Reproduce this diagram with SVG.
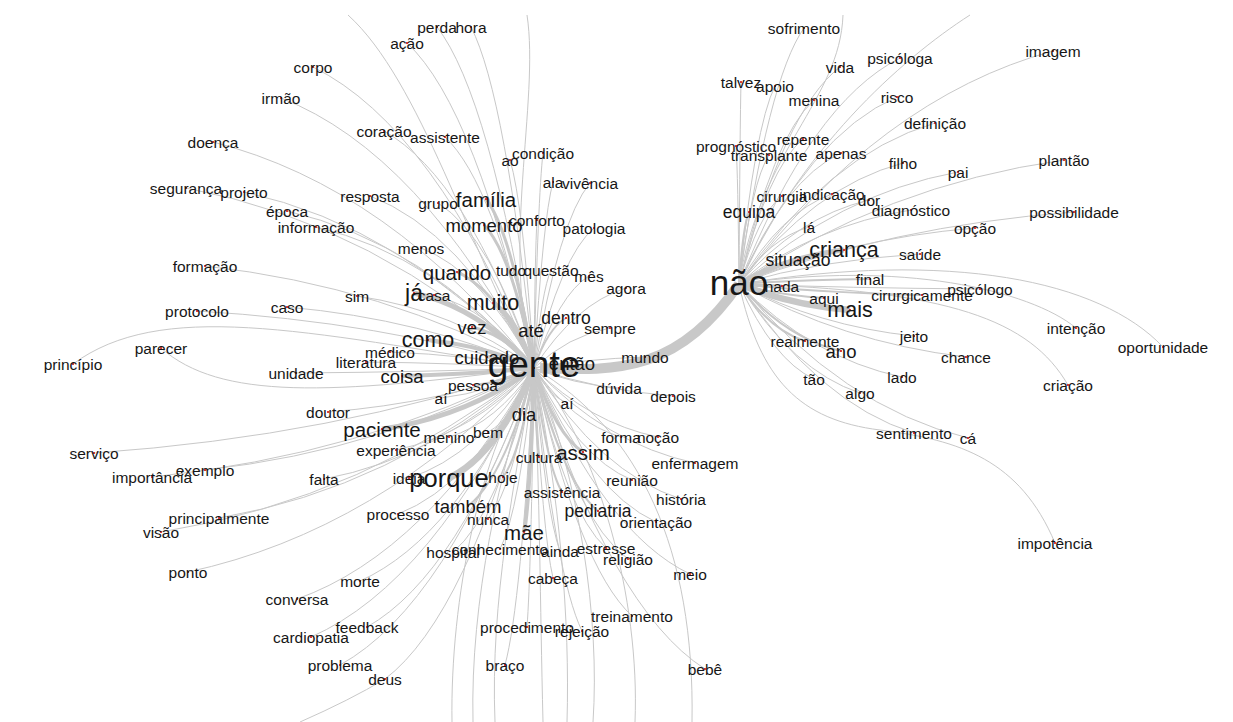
<svg xmlns="http://www.w3.org/2000/svg" width="1233" height="722" viewBox="0 0 1233 722">
<style>
.e{fill:none;stroke:#c8c8c8;stroke-width:1}
.w2{stroke-width:2}.w3{stroke-width:3}.w4{stroke-width:4}.w5{stroke-width:5}.w6{stroke-width:6.5}.w10{stroke-width:10}
circle{fill:#d40000}
text{font-family:"Liberation Sans",Arial,sans-serif;font-size:15.5px;fill:#161616;text-anchor:middle;dominant-baseline:central}
.f17{font-size:17.5px}.f18{font-size:18.5px}.f20{font-size:20.5px}.f21{font-size:21.5px}.f23{font-size:23px}.f25{font-size:25.5px}.f35{font-size:35px}.f37{font-size:37px}
</style>
<rect width="1233" height="722" fill="#fff"/>
<g id="connectors">
<path class="e" d="M437 27q53 68 97 341"/>
<path class="e" d="M471 27q35 68 63 341"/>
<path class="e" d="M407 43q70 65 127 325"/>
<path class="e" d="M313 67q122 60 221 301"/>
<path class="e" d="M281 98q139 54 253 270"/>
<path class="e" d="M384 131q83 47 150 237"/>
<path class="e" d="M445 137q49 46 89 231"/>
<path class="e" d="M213 142q177 45 321 226"/>
<path class="e" d="M510 160q13 42 24 208"/>
<path class="e" d="M543 153q-5 43 -9 215"/>
<path class="e" d="M553 182q-10 37 -19 186"/>
<path class="e" d="M590 183q-31 37 -56 185"/>
<path class="e" d="M186 188q191 36 348 180"/>
<path class="e" d="M244 192q160 35 290 176"/>
<path class="e" d="M370 196q90 34 164 172"/>
<path class="e" d="M287 211q136 31 247 157"/>
<path class="e" d="M316 227q120 28 218 141"/>
<path class="e" d="M438 203q53 33 96 165"/>
<path class="e w3" d="M486 199q26 34 48 169"/>
<path class="e w3" d="M484 225q28 29 50 143"/>
<path class="e" d="M537 220q-2 30 -3 148"/>
<path class="e" d="M594 228q-33 28 -60 140"/>
<path class="e" d="M421 248q62 24 113 120"/>
<path class="e w3" d="M457 272q42 19 77 96"/>
<path class="e" d="M511 270q13 20 23 98"/>
<path class="e" d="M551 270q-9 20 -17 98"/>
<path class="e" d="M589 276q-30 18 -55 92"/>
<path class="e" d="M626 288q-51 16 -92 80"/>
<path class="e" d="M205 266q181 20 329 102"/>
<path class="e w5" d="M414 293q66 15 120 75"/>
<path class="e" d="M434 295q55 15 100 73"/>
<path class="e" d="M357 296q97 14 177 72"/>
<path class="e w4" d="M493 303q23 13 41 65"/>
<path class="e" d="M287 307q136 12 247 61"/>
<path class="e" d="M197 311q185 11 337 57"/>
<path class="e w3" d="M472 327q34 8 62 41"/>
<path class="e w2" d="M531 330q2 8 3 38"/>
<path class="e w2" d="M566 318q-18 10 -32 50"/>
<path class="e" d="M610 328q-42 8 -76 40"/>
<path class="e w4" d="M428 340q58 6 106 28"/>
<path class="e" d="M390 352q79 3 144 16"/>
<path class="e" d="M366 362q92 1 168 6"/>
<path class="e" d="M161 348C220 400 330 395 534 368"/>
<path class="e" d="M73 364C160 300 300 330 534 368"/>
<path class="e" d="M296 373q131 -1 238 -5"/>
<path class="e w3" d="M487 357q26 2 47 11"/>
<path class="e" d="M572 363q-21 1 -38 5"/>
<path class="e" d="M645 357q-61 2 -111 11"/>
<path class="e w4" d="M402 376q73 -2 132 -8"/>
<path class="e w2" d="M473 385q34 -3 61 -17"/>
<path class="e" d="M441 398q51 -6 93 -30"/>
<path class="e" d="M619 388q-47 -4 -85 -20"/>
<path class="e" d="M673 396q-76 -6 -139 -28"/>
<path class="e" d="M328 412q113 -9 206 -44"/>
<path class="e w2" d="M524 414q6 -9 10 -46"/>
<path class="e" d="M567 403q-18 -7 -33 -35"/>
<path class="e w5" d="M382 429q84 -12 152 -61"/>
<path class="e" d="M449 437q47 -14 85 -69"/>
<path class="e" d="M488 432q25 -13 46 -64"/>
<path class="e" d="M396 450q76 -16 138 -82"/>
<path class="e" d="M621 437q-48 -14 -87 -69"/>
<path class="e" d="M658 437q-68 -14 -124 -69"/>
<path class="e" d="M94 453q242 -17 440 -85"/>
<path class="e" d="M152 477q210 -22 382 -109"/>
<path class="e" d="M205 470q181 -20 329 -102"/>
<path class="e w2" d="M539 457q-3 -18 -5 -89"/>
<path class="e w3" d="M583 452q-27 -17 -49 -84"/>
<path class="e" d="M695 463q-89 -19 -161 -95"/>
<path class="e" d="M324 479q116 -22 210 -111"/>
<path class="e" d="M409 478q69 -22 125 -110"/>
<path class="e w6" d="M449 478q47 -22 85 -110"/>
<path class="e w2" d="M503 477q17 -22 31 -109"/>
<path class="e" d="M632 480q-54 -22 -98 -112"/>
<path class="e w2" d="M562 492q-15 -25 -28 -124"/>
<path class="e" d="M681 499q-81 -26 -147 -131"/>
<path class="e" d="M219 518q173 -30 315 -150"/>
<path class="e" d="M161 532q205 -33 373 -164"/>
<path class="e" d="M398 514q75 -29 136 -146"/>
<path class="e w2" d="M468 506q36 -28 66 -138"/>
<path class="e" d="M488 519q25 -30 46 -151"/>
<path class="e w2" d="M598 511q-35 -29 -64 -143"/>
<path class="e" d="M656 522q-67 -31 -122 -154"/>
<path class="e w4" d="M524 532q6 -33 10 -164"/>
<path class="e" d="M453 552q45 -37 81 -184"/>
<path class="e" d="M500 549q19 -36 34 -181"/>
<path class="e" d="M560 551q-14 -37 -26 -183"/>
<path class="e" d="M606 548q-40 -36 -72 -180"/>
<path class="e" d="M628 559q-52 -38 -94 -191"/>
<path class="e" d="M188 572q190 -41 346 -204"/>
<path class="e" d="M690 574q-86 -41 -156 -206"/>
<path class="e" d="M553 578q-10 -42 -19 -210"/>
<path class="e" d="M360 581q96 -43 174 -213"/>
<path class="e" d="M297 599q130 -46 237 -231"/>
<path class="e" d="M632 616q-54 -50 -98 -248"/>
<path class="e" d="M367 627q92 -52 167 -259"/>
<path class="e" d="M527 627q4 -52 7 -259"/>
<path class="e" d="M582 631q-26 -53 -48 -263"/>
<path class="e" d="M311 637q123 -54 223 -269"/>
<path class="e" d="M340 665q107 -59 194 -297"/>
<path class="e" d="M505 665q16 -59 29 -297"/>
<path class="e" d="M385 679q82 -62 149 -311"/>
<path class="e" d="M705 669q-94 -60 -171 -301"/>
<path class="e" d="M534 368C500 250 540 100 527 15"/>
<path class="e" d="M534 368C470 250 420 80 348 15"/>
<path class="e" d="M534 368C480 450 450 600 452 722"/>
<path class="e" d="M534 368C500 470 470 600 473 722"/>
<path class="e" d="M534 368C515 480 490 600 495 722"/>
<path class="e" d="M534 368C540 500 540 600 543 722"/>
<path class="e" d="M534 368C560 500 570 620 567 722"/>
<path class="e" d="M534 368C580 480 600 620 593 722"/>
<path class="e" d="M534 368C600 450 640 600 635 722"/>
<path class="e" d="M534 368C640 430 695 550 692 722"/>
<path class="e" d="M385 679Q350 700 300 722"/>
<path class="e" d="M804 28q-36 51 -65 256"/>
<path class="e" d="M1053 51q-173 47 -314 233"/>
<path class="e" d="M840 67q-56 43 -101 217"/>
<path class="e" d="M900 58q-89 45 -161 226"/>
<path class="e" d="M741 82q-1 40 -2 202"/>
<path class="e" d="M775 86q-20 40 -36 198"/>
<path class="e" d="M814 100q-41 37 -75 184"/>
<path class="e" d="M897 97q-87 37 -158 187"/>
<path class="e" d="M935 123q-108 32 -196 161"/>
<path class="e" d="M736 146q2 28 3 138"/>
<path class="e" d="M803 139q-35 29 -64 145"/>
<path class="e" d="M769 155q-17 26 -30 129"/>
<path class="e" d="M841 153q-56 26 -102 131"/>
<path class="e" d="M903 163q-90 24 -164 121"/>
<path class="e" d="M1064 160q-179 25 -325 124"/>
<path class="e" d="M958 172q-120 22 -219 112"/>
<path class="e" d="M782 196q-24 18 -43 88"/>
<path class="e" d="M832 194q-51 18 -93 90"/>
<path class="e" d="M869 200q-72 17 -130 84"/>
<path class="e" d="M911 210q-95 15 -172 74"/>
<path class="e" d="M1074 212q-184 14 -335 72"/>
<path class="e w2" d="M749 212q-6 14 -10 72"/>
<path class="e" d="M809 227q-39 11 -70 57"/>
<path class="e" d="M975 228q-130 11 -236 56"/>
<path class="e w5" d="M844 250q-58 7 -105 34"/>
<path class="e" d="M920 254q-100 6 -181 30"/>
<path class="e w3" d="M798 260q-32 5 -59 24"/>
<path class="e w3" d="M782 286q-24 0 -43 -2"/>
<path class="e w2" d="M870 279q-72 1 -131 5"/>
<path class="e w2" d="M824 298q-47 -3 -85 -14"/>
<path class="e w2" d="M922 295q-101 -2 -183 -11"/>
<path class="e" d="M980 289q-133 -1 -241 -5"/>
<path class="e w6" d="M850 310q-61 -5 -111 -26"/>
<path class="e" d="M914 336q-96 -10 -175 -52"/>
<path class="e" d="M1076 328C1030 290 900 260 739 284"/>
<path class="e w2" d="M805 341q-36 -11 -66 -57"/>
<path class="e w2" d="M841 351q-56 -13 -102 -67"/>
<path class="e" d="M1163 347C1100 280 950 250 739 284"/>
<path class="e" d="M966 357q-125 -15 -227 -73"/>
<path class="e" d="M902 377q-90 -19 -163 -93"/>
<path class="e" d="M814 379q-41 -19 -75 -95"/>
<path class="e" d="M1068 385C1030 320 950 290 739 284"/>
<path class="e" d="M860 393q-67 -22 -121 -109"/>
<path class="e" d="M914 433q-96 -30 -175 -149"/>
<path class="e" d="M968 438q-126 -31 -229 -154"/>
<path class="e" d="M1055 543C1020 460 960 440 880 430C800 420 760 380 739 284"/>
<path class="e" d="M739 284C760 150 840 100 843 15"/>
<path class="e" d="M739 284C800 150 900 60 970 15"/>
<path class="e w10" d="M540 368C620 372 680 370 739 284"/>
</g>
<g id="n-perda"><circle cx="437" cy="27" r="1"/><text x="437" y="27">perda</text></g>
<g id="n-hora"><circle cx="471" cy="27" r="1"/><text x="471" y="27">hora</text></g>
<g id="n-acao"><circle cx="407" cy="43" r="1"/><text x="407" y="43">ação</text></g>
<g id="n-corpo"><circle cx="313" cy="67" r="1"/><text x="313" y="67">corpo</text></g>
<g id="n-irmao"><circle cx="281" cy="98" r="1"/><text x="281" y="98">irmão</text></g>
<g id="n-coracao"><circle cx="384" cy="131" r="1"/><text x="384" y="131">coração</text></g>
<g id="n-assistente"><circle cx="445" cy="137" r="1"/><text x="445" y="137">assistente</text></g>
<g id="n-doenca"><circle cx="213" cy="142" r="1"/><text x="213" y="142">doença</text></g>
<g id="n-ao"><circle cx="510" cy="160" r="1"/><text x="510" y="160">ao</text></g>
<g id="n-condicao"><circle cx="543" cy="153" r="1"/><text x="543" y="153">condição</text></g>
<g id="n-ala"><circle cx="553" cy="182" r="1"/><text x="553" y="182">ala</text></g>
<g id="n-vivencia"><circle cx="590" cy="183" r="1"/><text x="590" y="183">vivência</text></g>
<g id="n-seguranca"><circle cx="186" cy="188" r="1"/><text x="186" y="188">segurança</text></g>
<g id="n-projeto"><circle cx="244" cy="192" r="1"/><text x="244" y="192">projeto</text></g>
<g id="n-resposta"><circle cx="370" cy="196" r="1"/><text x="370" y="196">resposta</text></g>
<g id="n-epoca"><circle cx="287" cy="211" r="1"/><text x="287" y="211">época</text></g>
<g id="n-informacao"><circle cx="316" cy="227" r="1"/><text x="316" y="227">informação</text></g>
<g id="n-grupo"><circle cx="438" cy="203" r="1"/><text x="438" y="203">grupo</text></g>
<g id="n-familia"><circle cx="486" cy="199" r="1"/><text class="f20" x="486" y="199">família</text></g>
<g id="n-momento"><circle cx="484" cy="225" r="1"/><text class="f18" x="484" y="225">momento</text></g>
<g id="n-conforto"><circle cx="537" cy="220" r="1"/><text x="537" y="220">conforto</text></g>
<g id="n-patologia"><circle cx="594" cy="228" r="1"/><text x="594" y="228">patologia</text></g>
<g id="n-menos"><circle cx="421" cy="248" r="1"/><text x="421" y="248">menos</text></g>
<g id="n-quando"><circle cx="457" cy="272" r="1"/><text class="f20" x="457" y="272">quando</text></g>
<g id="n-tudo"><circle cx="511" cy="270" r="1"/><text x="511" y="270">tudo</text></g>
<g id="n-questao"><circle cx="551" cy="270" r="1"/><text x="551" y="270">questão</text></g>
<g id="n-mes"><circle cx="589" cy="276" r="1"/><text x="589" y="276">mês</text></g>
<g id="n-agora"><circle cx="626" cy="288" r="1"/><text x="626" y="288">agora</text></g>
<g id="n-formacao"><circle cx="205" cy="266" r="1"/><text x="205" y="266">formação</text></g>
<g id="n-ja"><circle cx="414" cy="293" r="1"/><text class="f23" x="414" y="293">já</text></g>
<g id="n-casa"><circle cx="434" cy="295" r="1"/><text x="434" y="295">casa</text></g>
<g id="n-sim"><circle cx="357" cy="296" r="1"/><text x="357" y="296">sim</text></g>
<g id="n-muito"><circle cx="493" cy="303" r="1"/><text class="f21" x="493" y="303">muito</text></g>
<g id="n-caso"><circle cx="287" cy="307" r="1"/><text x="287" y="307">caso</text></g>
<g id="n-protocolo"><circle cx="197" cy="311" r="1"/><text x="197" y="311">protocolo</text></g>
<g id="n-vez"><circle cx="472" cy="327" r="1"/><text class="f18" x="472" y="327">vez</text></g>
<g id="n-ate"><circle cx="531" cy="330" r="1"/><text class="f18" x="531" y="330">até</text></g>
<g id="n-dentro"><circle cx="566" cy="318" r="1"/><text class="f17" x="566" y="318">dentro</text></g>
<g id="n-sempre"><circle cx="610" cy="328" r="1"/><text x="610" y="328">sempre</text></g>
<g id="n-como"><circle cx="428" cy="340" r="1"/><text class="f21" x="428" y="340">como</text></g>
<g id="n-medico"><circle cx="390" cy="352" r="1"/><text x="390" y="352">médico</text></g>
<g id="n-literatura"><circle cx="366" cy="362" r="1"/><text x="366" y="362">literatura</text></g>
<g id="n-parecer"><circle cx="161" cy="348" r="1"/><text x="161" y="348">parecer</text></g>
<g id="n-principio"><circle cx="73" cy="364" r="1"/><text x="73" y="364">princípio</text></g>
<g id="n-unidade"><circle cx="296" cy="373" r="1"/><text x="296" y="373">unidade</text></g>
<g id="n-cuidado"><circle cx="487" cy="357" r="1"/><text class="f18" x="487" y="357">cuidado</text></g>
<g id="n-entao"><circle cx="572" cy="363" r="1"/><text class="f18" x="572" y="363">então</text></g>
<g id="n-mundo"><circle cx="645" cy="357" r="1"/><text x="645" y="357">mundo</text></g>
<g id="n-coisa"><circle cx="402" cy="376" r="1"/><text class="f18" x="402" y="376">coisa</text></g>
<g id="n-pessoa"><circle cx="473" cy="385" r="1"/><text x="473" y="385">pessoa</text></g>
<g id="n-ai1"><circle cx="441" cy="398" r="1"/><text x="441" y="398">aí</text></g>
<g id="n-duvida"><circle cx="619" cy="388" r="1"/><text x="619" y="388">dúvida</text></g>
<g id="n-depois"><circle cx="673" cy="396" r="1"/><text x="673" y="396">depois</text></g>
<g id="n-doutor"><circle cx="328" cy="412" r="1"/><text x="328" y="412">doutor</text></g>
<g id="n-dia"><circle cx="524" cy="414" r="1"/><text class="f18" x="524" y="414">dia</text></g>
<g id="n-ai2"><circle cx="567" cy="403" r="1"/><text x="567" y="403">aí</text></g>
<g id="n-paciente"><circle cx="382" cy="429" r="1"/><text class="f20" x="382" y="429">paciente</text></g>
<g id="n-menino"><circle cx="449" cy="437" r="1"/><text x="449" y="437">menino</text></g>
<g id="n-bem"><circle cx="488" cy="432" r="1"/><text x="488" y="432">bem</text></g>
<g id="n-experiencia"><circle cx="396" cy="450" r="1"/><text x="396" y="450">experiência</text></g>
<g id="n-forma"><circle cx="621" cy="437" r="1"/><text x="621" y="437">forma</text></g>
<g id="n-nocao"><circle cx="658" cy="437" r="1"/><text x="658" y="437">noção</text></g>
<g id="n-servico"><circle cx="94" cy="453" r="1"/><text x="94" y="453">serviço</text></g>
<g id="n-importancia"><circle cx="152" cy="477" r="1"/><text x="152" y="477">importância</text></g>
<g id="n-exemplo"><circle cx="205" cy="470" r="1"/><text x="205" y="470">exemplo</text></g>
<g id="n-cultura"><circle cx="539" cy="457" r="1"/><text x="539" y="457">cultura</text></g>
<g id="n-assim"><circle cx="583" cy="452" r="1"/><text class="f20" x="583" y="452">assim</text></g>
<g id="n-enfermagem"><circle cx="695" cy="463" r="1"/><text x="695" y="463">enfermagem</text></g>
<g id="n-falta"><circle cx="324" cy="479" r="1"/><text x="324" y="479">falta</text></g>
<g id="n-ideia"><circle cx="409" cy="478" r="1"/><text x="409" y="478">ideia</text></g>
<g id="n-porque"><circle cx="449" cy="478" r="1"/><text class="f25" x="449" y="478">porque</text></g>
<g id="n-hoje"><circle cx="503" cy="477" r="1"/><text x="503" y="477">hoje</text></g>
<g id="n-reuniao"><circle cx="632" cy="480" r="1"/><text x="632" y="480">reunião</text></g>
<g id="n-assistencia"><circle cx="562" cy="492" r="1"/><text x="562" y="492">assistência</text></g>
<g id="n-historia"><circle cx="681" cy="499" r="1"/><text x="681" y="499">história</text></g>
<g id="n-principalmente"><circle cx="219" cy="518" r="1"/><text x="219" y="518">principalmente</text></g>
<g id="n-visao"><circle cx="161" cy="532" r="1"/><text x="161" y="532">visão</text></g>
<g id="n-processo"><circle cx="398" cy="514" r="1"/><text x="398" y="514">processo</text></g>
<g id="n-tambem"><circle cx="468" cy="506" r="1"/><text class="f18" x="468" y="506">também</text></g>
<g id="n-nunca"><circle cx="488" cy="519" r="1"/><text x="488" y="519">nunca</text></g>
<g id="n-pediatria"><circle cx="598" cy="511" r="1"/><text class="f17" x="598" y="511">pediatria</text></g>
<g id="n-orientacao"><circle cx="656" cy="522" r="1"/><text x="656" y="522">orientação</text></g>
<g id="n-mae"><circle cx="524" cy="532" r="1"/><text class="f20" x="524" y="532">mãe</text></g>
<g id="n-hospital"><circle cx="453" cy="552" r="1"/><text x="453" y="552">hospital</text></g>
<g id="n-conhecimento"><circle cx="500" cy="549" r="1"/><text x="500" y="549">conhecimento</text></g>
<g id="n-ainda"><circle cx="560" cy="551" r="1"/><text x="560" y="551">ainda</text></g>
<g id="n-estresse"><circle cx="606" cy="548" r="1"/><text x="606" y="548">estresse</text></g>
<g id="n-religiao"><circle cx="628" cy="559" r="1"/><text x="628" y="559">religião</text></g>
<g id="n-ponto"><circle cx="188" cy="572" r="1"/><text x="188" y="572">ponto</text></g>
<g id="n-meio"><circle cx="690" cy="574" r="1"/><text x="690" y="574">meio</text></g>
<g id="n-cabeca"><circle cx="553" cy="578" r="1"/><text x="553" y="578">cabeça</text></g>
<g id="n-morte"><circle cx="360" cy="581" r="1"/><text x="360" y="581">morte</text></g>
<g id="n-conversa"><circle cx="297" cy="599" r="1"/><text x="297" y="599">conversa</text></g>
<g id="n-treinamento"><circle cx="632" cy="616" r="1"/><text x="632" y="616">treinamento</text></g>
<g id="n-feedback"><circle cx="367" cy="627" r="1"/><text x="367" y="627">feedback</text></g>
<g id="n-procedimento"><circle cx="527" cy="627" r="1"/><text x="527" y="627">procedimento</text></g>
<g id="n-rejeicao"><circle cx="582" cy="631" r="1"/><text x="582" y="631">rejeição</text></g>
<g id="n-cardiopatia"><circle cx="311" cy="637" r="1"/><text x="311" y="637">cardiopatia</text></g>
<g id="n-problema"><circle cx="340" cy="665" r="1"/><text x="340" y="665">problema</text></g>
<g id="n-braco"><circle cx="505" cy="665" r="1"/><text x="505" y="665">braço</text></g>
<g id="n-deus"><circle cx="385" cy="679" r="1"/><text x="385" y="679">deus</text></g>
<g id="n-bebe"><circle cx="705" cy="669" r="1"/><text x="705" y="669">bebê</text></g>
<g id="n-gente"><circle cx="534" cy="368" r="1"/><text class="f37" x="534" y="364">gente</text></g>
<g id="n-sofrimento"><circle cx="804" cy="28" r="1"/><text x="804" y="28">sofrimento</text></g>
<g id="n-imagem"><circle cx="1053" cy="51" r="1"/><text x="1053" y="51">imagem</text></g>
<g id="n-vida"><circle cx="840" cy="67" r="1"/><text x="840" y="67">vida</text></g>
<g id="n-psicologa"><circle cx="900" cy="58" r="1"/><text x="900" y="58">psicóloga</text></g>
<g id="n-talvez"><circle cx="741" cy="82" r="1"/><text x="741" y="82">talvez</text></g>
<g id="n-apoio"><circle cx="775" cy="86" r="1"/><text x="775" y="86">apoio</text></g>
<g id="n-menina"><circle cx="814" cy="100" r="1"/><text x="814" y="100">menina</text></g>
<g id="n-risco"><circle cx="897" cy="97" r="1"/><text x="897" y="97">risco</text></g>
<g id="n-definicao"><circle cx="935" cy="123" r="1"/><text x="935" y="123">definição</text></g>
<g id="n-prognostico"><circle cx="736" cy="146" r="1"/><text x="736" y="146">prognóstico</text></g>
<g id="n-repente"><circle cx="803" cy="139" r="1"/><text x="803" y="139">repente</text></g>
<g id="n-transplante"><circle cx="769" cy="155" r="1"/><text x="769" y="155">transplante</text></g>
<g id="n-apenas"><circle cx="841" cy="153" r="1"/><text x="841" y="153">apenas</text></g>
<g id="n-filho"><circle cx="903" cy="163" r="1"/><text x="903" y="163">filho</text></g>
<g id="n-plantao"><circle cx="1064" cy="160" r="1"/><text x="1064" y="160">plantão</text></g>
<g id="n-pai"><circle cx="958" cy="172" r="1"/><text x="958" y="172">pai</text></g>
<g id="n-cirurgia"><circle cx="782" cy="196" r="1"/><text x="782" y="196">cirurgia</text></g>
<g id="n-indicacao"><circle cx="832" cy="194" r="1"/><text x="832" y="194">indicação</text></g>
<g id="n-dor"><circle cx="869" cy="200" r="1"/><text x="869" y="200">dor</text></g>
<g id="n-diagnostico"><circle cx="911" cy="210" r="1"/><text x="911" y="210">diagnóstico</text></g>
<g id="n-possibilidade"><circle cx="1074" cy="212" r="1"/><text x="1074" y="212">possibilidade</text></g>
<g id="n-equipa"><circle cx="749" cy="212" r="1"/><text class="f17" x="749" y="212">equipa</text></g>
<g id="n-la"><circle cx="809" cy="227" r="1"/><text x="809" y="227">lá</text></g>
<g id="n-opcao"><circle cx="975" cy="228" r="1"/><text x="975" y="228">opção</text></g>
<g id="n-crianca"><circle cx="844" cy="250" r="1"/><text class="f21" x="844" y="250">criança</text></g>
<g id="n-saude"><circle cx="920" cy="254" r="1"/><text x="920" y="254">saúde</text></g>
<g id="n-situacao"><circle cx="798" cy="260" r="1"/><text class="f17" x="798" y="260">situação</text></g>
<g id="n-nada"><circle cx="782" cy="286" r="1"/><text x="782" y="286">nada</text></g>
<g id="n-final"><circle cx="870" cy="279" r="1"/><text x="870" y="279">final</text></g>
<g id="n-aqui"><circle cx="824" cy="298" r="1"/><text x="824" y="298">aqui</text></g>
<g id="n-cirurgicamente"><circle cx="922" cy="295" r="1"/><text x="922" y="295">cirurgicamente</text></g>
<g id="n-psicologo"><circle cx="980" cy="289" r="1"/><text x="980" y="289">psicólogo</text></g>
<g id="n-mais"><circle cx="850" cy="310" r="1"/><text class="f21" x="850" y="310">mais</text></g>
<g id="n-jeito"><circle cx="914" cy="336" r="1"/><text x="914" y="336">jeito</text></g>
<g id="n-intencao"><circle cx="1076" cy="328" r="1"/><text x="1076" y="328">intenção</text></g>
<g id="n-realmente"><circle cx="805" cy="341" r="1"/><text x="805" y="341">realmente</text></g>
<g id="n-ano"><circle cx="841" cy="351" r="1"/><text class="f18" x="841" y="351">ano</text></g>
<g id="n-oportunidade"><circle cx="1163" cy="347" r="1"/><text x="1163" y="347">oportunidade</text></g>
<g id="n-chance"><circle cx="966" cy="357" r="1"/><text x="966" y="357">chance</text></g>
<g id="n-lado"><circle cx="902" cy="377" r="1"/><text x="902" y="377">lado</text></g>
<g id="n-tao"><circle cx="814" cy="379" r="1"/><text x="814" y="379">tão</text></g>
<g id="n-criacao"><circle cx="1068" cy="385" r="1"/><text x="1068" y="385">criação</text></g>
<g id="n-algo"><circle cx="860" cy="393" r="1"/><text x="860" y="393">algo</text></g>
<g id="n-sentimento"><circle cx="914" cy="433" r="1"/><text x="914" y="433">sentimento</text></g>
<g id="n-ca"><circle cx="968" cy="438" r="1"/><text x="968" y="438">cá</text></g>
<g id="n-impotencia"><circle cx="1055" cy="543" r="1"/><text x="1055" y="543">impotência</text></g>
<g id="n-nao"><circle cx="739" cy="284" r="1"/><text class="f35" x="739" y="282">não</text></g>
</svg>
